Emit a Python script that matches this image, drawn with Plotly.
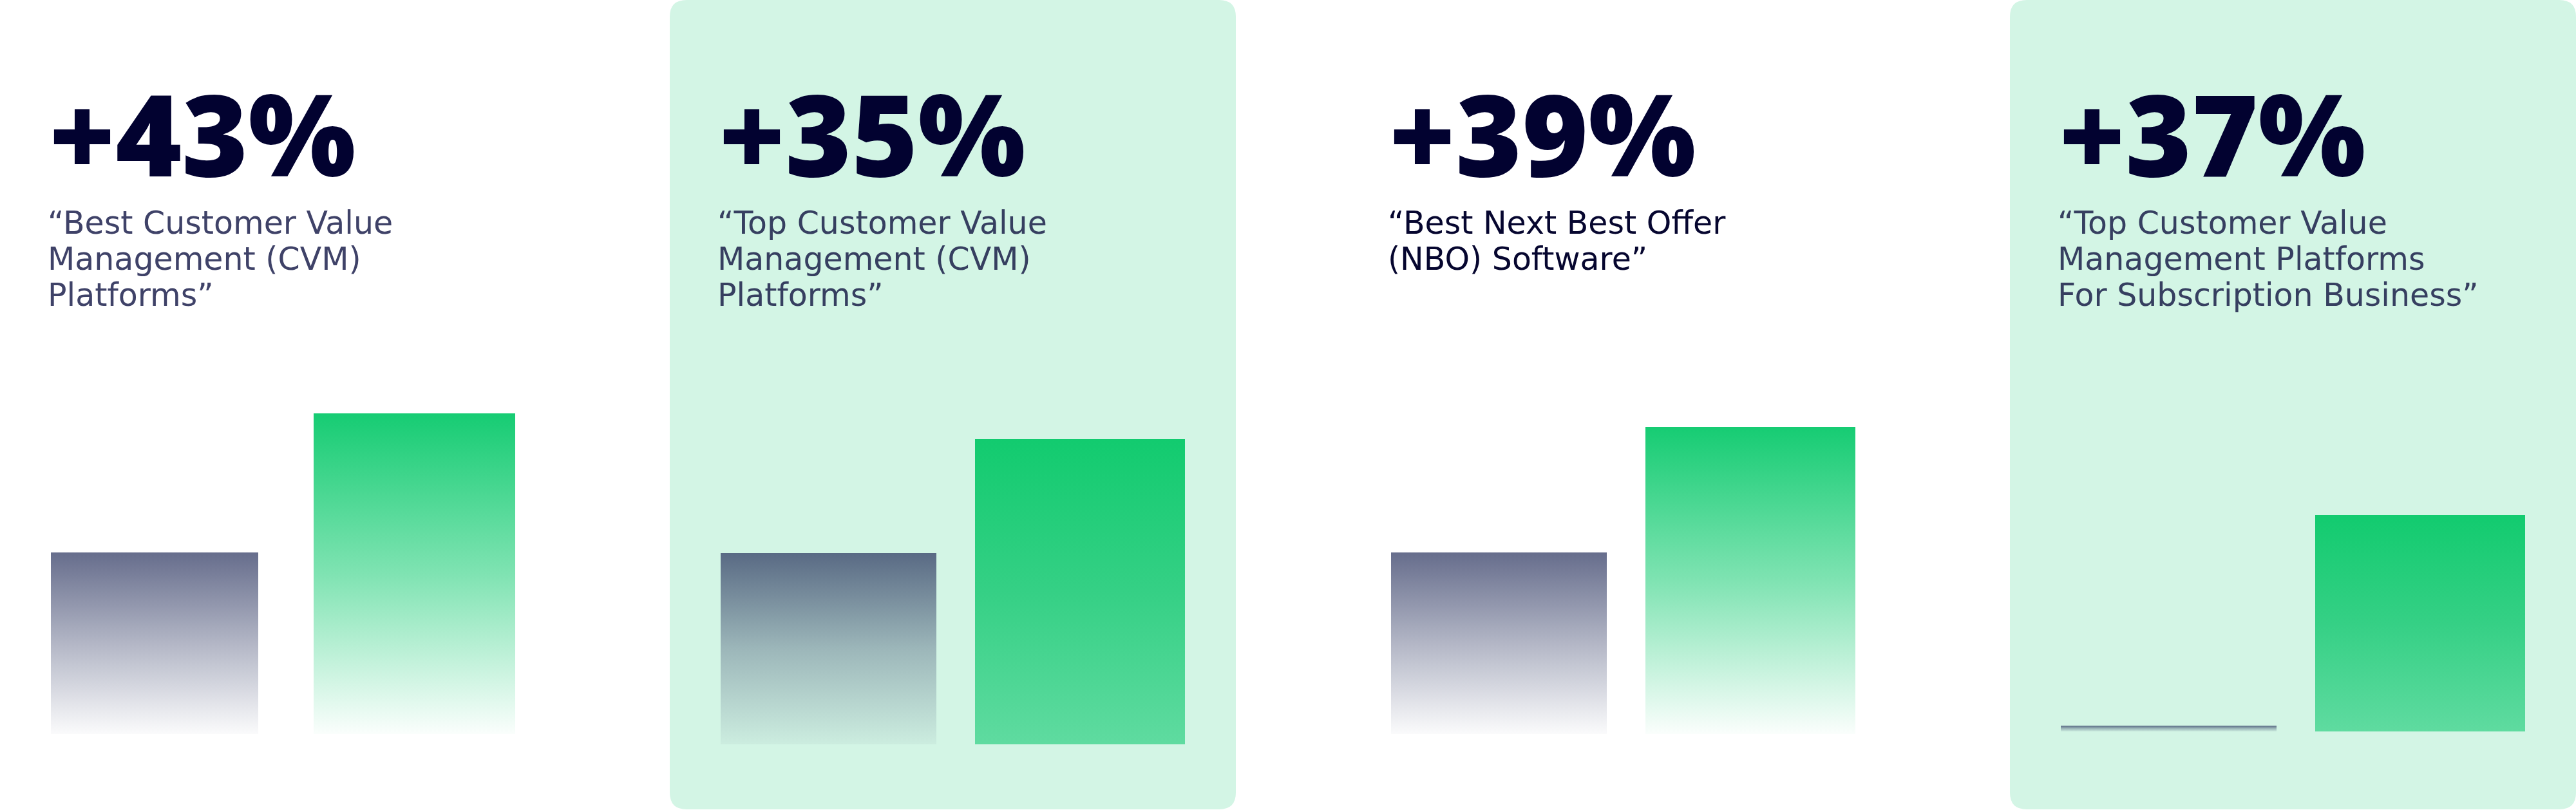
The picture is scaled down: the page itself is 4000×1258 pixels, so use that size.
import plotly.graph_objects as go

W, H = 4000, 1258

# headline numbers and the quoted category under each
stats = ["+43%", "+35%", "+39%", "+37%"]
titles = [
    "“Best Customer Value<br>Management (CVM)<br>Platforms”",
    "“Top Customer Value<br>Management (CVM)<br>Platforms”",
    "“Best Next Best Offer<br>(NBO) Software”",
    "“Top Customer Value<br>Management Platforms<br>For Subscription Business”",
]
# bar heights (grey = before, green = after)
before = [94, 99, 94, 3]
after = [166, 158, 159, 112]

shaded = [False, True, False, True]
title_colors = ["#3f4268", "#363f60", "#06062f", "#363f60"]
panel_left = [0, 1040, 2081, 3121]
panel_w = 879
baseline_px = [1140, 1156, 1140, 1136]
px_per_unit = 3.0

# bar centres and half widths inside each panel, px
centres = [(240, 643.5), (246.5, 637), (246.5, 637), (246.5, 637)]
half_w = [(161, 156.5), (167.5, 163), (167.5, 163), (167.5, 163)]

fig = go.Figure()


def bar_poly(c, hw, v):
    return [c - hw, c + hw, c + hw, c - hw, c - hw], [0, 0, v, v, 0]


for i in range(4):
    ax = "" if i == 0 else str(i + 1)
    c0, c1 = centres[i]
    unit = c1 - c0
    if shaded[i]:
        grey_cs = [[0, "rgba(89,106,132,0.06)"], [0.5, "rgba(89,106,132,0.45)"], [1, "rgba(89,106,132,1)"]]
        green_cs = [[0, "#5fdba0"], [0.5, "#35d085"], [1, "#12cb6f"]]
    else:
        grey_cs = [[0, "rgba(102,109,140,0.03)"], [0.5, "rgba(102,109,140,0.5)"], [1, "rgba(102,109,140,1)"]]
        green_cs = [[0, "rgba(22,204,115,0.02)"], [0.5, "rgba(22,204,115,0.55)"], [1, "rgba(22,204,115,1)"]]

    bars = [(0, half_w[i][0] / unit, before[i], grey_cs),
            (1, half_w[i][1] / unit, after[i], green_cs)]
    for c, hw, v, cs in bars:
        xs, ys = bar_poly(c, hw, v)
        fig.add_trace(go.Scatter(
            x=xs, y=ys, mode="lines", fill="toself", line=dict(width=0),
            fillgradient=dict(type="vertical", colorscale=cs, start=0, stop=v),
            hoverinfo="skip", showlegend=False,
            xaxis="x" + ax, yaxis="y" + ax,
        ))

    L = panel_left[i]
    b = baseline_px[i]
    fig.layout["xaxis" + ax] = dict(
        domain=[L / W, min((L + panel_w) / W, 1)],
        range=[-c0 / unit, (panel_w - c0) / unit],
        visible=False, fixedrange=True,
    )
    fig.layout["yaxis" + ax] = dict(
        domain=[0, 1],
        range=[-(H - b) / px_per_unit, b / px_per_unit],
        visible=False, fixedrange=True,
    )

    fig.add_annotation(
        text=stats[i], xref="paper", yref="paper",
        x=(L + 74) / W, y=1 - 206 / H, xanchor="left", yanchor="middle",
        showarrow=False,
        font=dict(family="Open Sans", size=176, color="#020230", weight=800),
    )
    for k, line in enumerate(titles[i].split("<br>")):
        fig.add_annotation(
            text=line, xref="paper", yref="paper", align="left",
            x=(L + 72) / W, y=1 - (346 + 56 * k) / H, xanchor="left", yanchor="middle",
            showarrow=False,
            font=dict(family="DejaVu Sans", size=49, color=title_colors[i]),
        )


def rounded(x0, y0, x1, y1, r):
    rx, ry = r / W, r / H
    X0, X1 = x0 / W, x1 / W
    Y0, Y1 = 1 - y1 / H, 1 - y0 / H
    return (f"M {X0 + rx},{Y0} L {X1 - rx},{Y0} Q {X1},{Y0} {X1},{Y0 + ry} "
            f"L {X1},{Y1 - ry} Q {X1},{Y1} {X1 - rx},{Y1} "
            f"L {X0 + rx},{Y1} Q {X0},{Y1} {X0},{Y1 - ry} "
            f"L {X0},{Y0 + ry} Q {X0},{Y0} {X0 + rx},{Y0} Z")


shapes = []
for i in range(4):
    if shaded[i]:
        L = panel_left[i]
        shapes.append(dict(
            type="path", xref="paper", yref="paper",
            path=rounded(L, 0, L + panel_w, 1257, 26),
            fillcolor="#d3f5e5", line=dict(width=0), layer="below",
        ))

fig.update_layout(
    width=W, height=H,
    margin=dict(l=0, r=0, t=0, b=0),
    paper_bgcolor="white", plot_bgcolor="rgba(0,0,0,0)",
    shapes=shapes, showlegend=False,
)

fig.write_html("out.html", config={"displayModeBar": False},
               post_script="document.body.style.margin='0';")
